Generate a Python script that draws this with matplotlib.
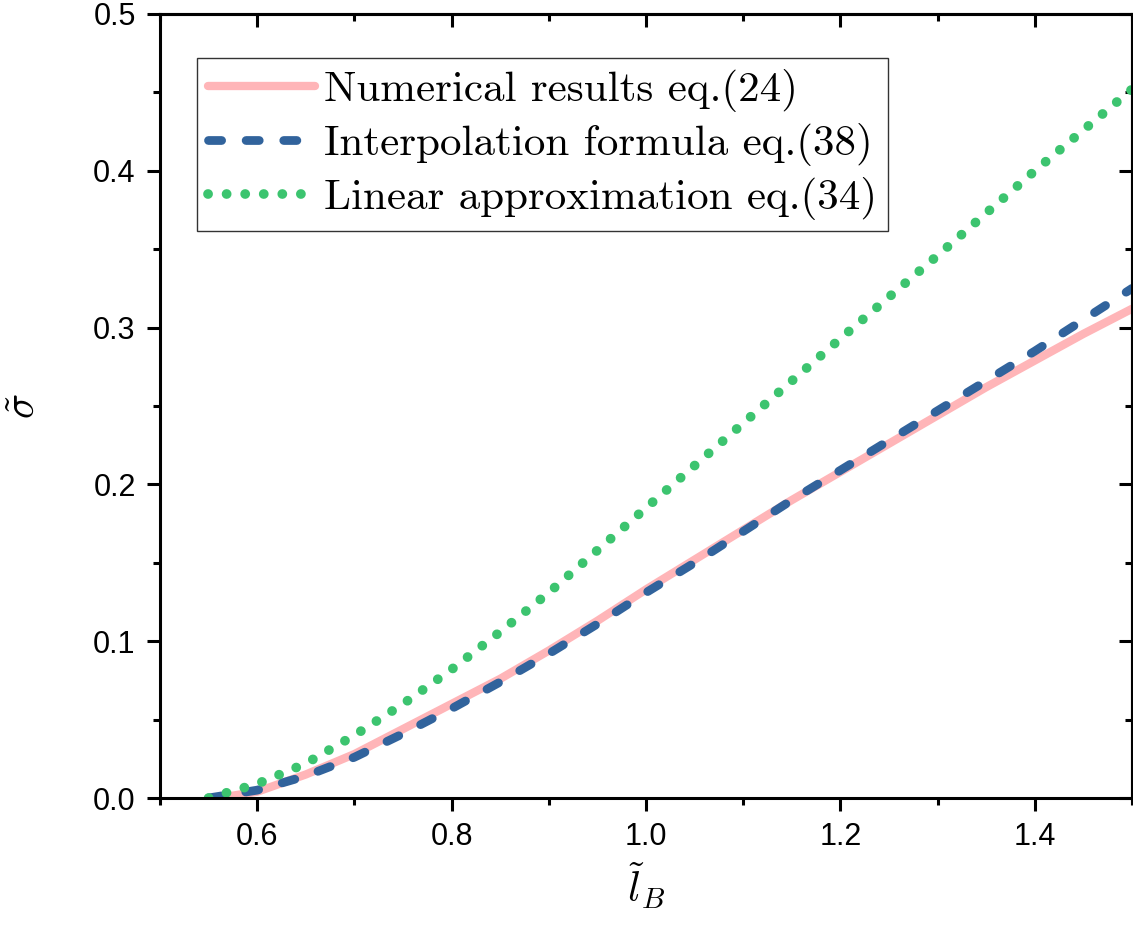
import matplotlib
matplotlib.use('Agg')
import matplotlib.pyplot as plt
from matplotlib.ticker import FixedLocator, MultipleLocator

plt.rcParams['mathtext.fontset'] = 'cm'
plt.rcParams['font.family'] = ['Liberation Sans', 'DejaVu Sans']

# numerical results eq.(24)
x_num = [0.56, 0.6, 0.65, 0.7, 0.75, 0.8, 0.85, 0.9, 0.95, 1.0, 1.05, 1.1,
         1.15, 1.2, 1.25, 1.3, 1.35, 1.4, 1.45, 1.5]
y_num = [0.0, 0.004, 0.015, 0.028, 0.044, 0.060, 0.076, 0.094, 0.113, 0.133,
         0.152, 0.171, 0.190, 0.208, 0.226, 0.244, 0.262, 0.279, 0.296, 0.312]

# interpolation formula eq.(38)
x_int = [0.55, 0.6, 0.65, 0.7, 0.75, 0.8, 0.85, 0.9, 0.95, 1.0, 1.05, 1.1,
         1.15, 1.2, 1.25, 1.3, 1.35, 1.4, 1.45, 1.5]
y_int = [0.0, 0.005, 0.014, 0.026, 0.041, 0.057, 0.074, 0.092, 0.111, 0.131,
         0.150, 0.170, 0.190, 0.209, 0.228, 0.247, 0.266, 0.285, 0.305, 0.325]

# linear approximation eq.(34)
x_lin = [0.55, 0.6, 0.65, 0.7, 0.75, 0.8, 0.85, 0.9, 0.95, 1.0, 1.1, 1.2,
         1.3, 1.4, 1.5]
y_lin = [0.0, 0.009, 0.022, 0.040, 0.060, 0.082, 0.106, 0.131, 0.158, 0.185,
         0.239, 0.293, 0.346, 0.400, 0.452]

labels = ['Numerical results eq.(24)',
          'Interpolation formula eq.(38)',
          'Linear approximation eq.(34)']

fig = plt.figure(figsize=(11.33, 9.26), dpi=100)
ax = fig.add_axes([160 / 1133, 128 / 926, 972 / 1133, 784 / 926])

ax.plot(x_num, y_num, color='#ffb5b8', lw=6, solid_capstyle='round',
        label=labels[0])
ax.plot(x_int, y_int, color='#31639c', lw=6.3, dashes=(1.5, 2.8),
        dash_capstyle='round', label=labels[1])
ax.plot(x_lin, y_lin, color='#3cc46f', lw=7, dashes=(0.01, 1.9),
        dash_capstyle='round', label=labels[2])

ax.set_xlim(0.5, 1.5)
ax.set_ylim(0, 0.5)
ax.xaxis.set_major_locator(FixedLocator([0.6, 0.8, 1.0, 1.2, 1.4]))
ax.xaxis.set_minor_locator(MultipleLocator(0.1))
ax.yaxis.set_major_locator(MultipleLocator(0.1))
ax.yaxis.set_minor_locator(MultipleLocator(0.05))
ax.xaxis.set_major_formatter(lambda v, p: f'{v:.1f}')
ax.yaxis.set_major_formatter(lambda v, p: f'{v:.1f}')

for s in ax.spines.values():
    s.set_linewidth(2.2)
ax.tick_params(which='both', direction='out', width=2.2, labelsize=22,
               top=False, right=False)
ax.tick_params(which='major', length=9.5, pad=8)
ax.tick_params(which='minor', length=5)

# inward ticks on top and right, no labels
top = ax.secondary_xaxis('top')
top.xaxis.set_major_locator(FixedLocator([0.6, 0.8, 1.0, 1.2, 1.4]))
top.xaxis.set_minor_locator(MultipleLocator(0.1))
top.tick_params(which='both', direction='in', width=2.2, labeltop=False)
top.tick_params(which='major', length=9.5)
top.tick_params(which='minor', length=5)
top.spines['top'].set_linewidth(2.2)

right = ax.secondary_yaxis('right')
right.yaxis.set_major_locator(MultipleLocator(0.1))
right.yaxis.set_minor_locator(MultipleLocator(0.05))
right.tick_params(which='both', direction='in', width=2.2, labelright=False)
right.tick_params(which='major', length=9.5)
right.tick_params(which='minor', length=5)
right.spines['right'].set_linewidth(2.2)

ax.set_xlabel(r'$\tilde{l}_B$', fontsize=30, labelpad=6)
ax.set_ylabel(r'$\tilde{\sigma}$', fontsize=30, labelpad=36)

leg = ax.legend(loc='upper left', bbox_to_anchor=(0.038, 0.944),
                borderaxespad=0, prop={'family': 'cmr10', 'size': 31},
                frameon=True, fancybox=False, edgecolor='black',
                handlelength=2.5, handletextpad=0.2, borderpad=0.25,
                labelspacing=0.26)
leg.get_frame().set_linewidth(1.0)

fig.savefig('out.png', dpi=100)
